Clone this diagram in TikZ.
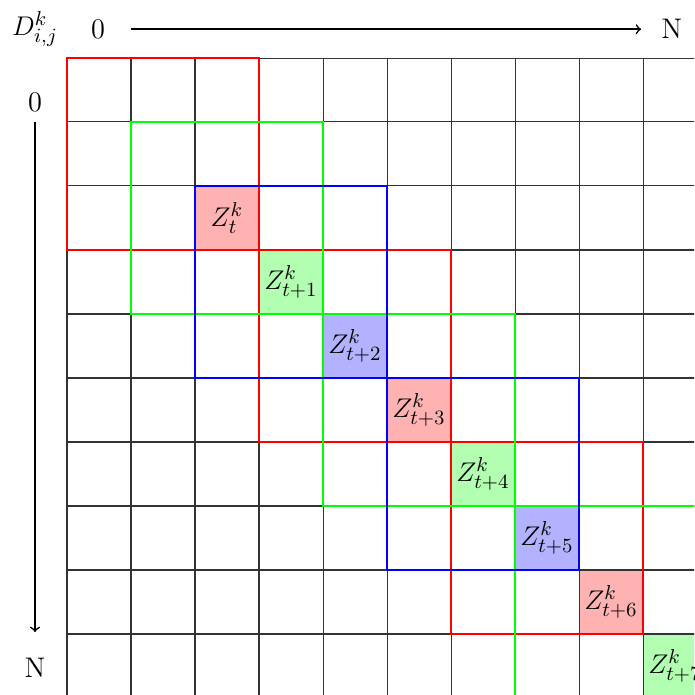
\documentclass[tikz,border=0pt]{standalone}
\begin{document}
\begin{tikzpicture}[x=1cm,y=-1cm,
  every node/.style={font=\fontsize{12.6}{15}\selectfont},
  gridline/.style={draw=black!80, line width=0.45pt},
  winbox/.style={line width=0.9pt},
  axarrow/.style={->, line width=0.7pt}]
\useasboundingbox (-1.046875,-0.90625) rectangle (9.796875,9.953125);
\clip (-1.046875,-0.90625) rectangle (9.796875,9.953125);
% filled diagonal cells
\fill[red!30]   (2,2) rectangle (3,3);
\fill[green!30] (3,3) rectangle (4,4);
\fill[blue!30]  (4,4) rectangle (5,5);
\fill[red!30]   (5,5) rectangle (6,6);
\fill[green!30] (6,6) rectangle (7,7);
\fill[blue!30]  (7,7) rectangle (8,8);
\fill[red!30]   (8,8) rectangle (9,9);
\fill[green!30] (9,9) rectangle (10,10);
% grid
\draw[gridline] (0,0) grid (11,11);
% windows
\draw[winbox, red]   (0,0) rectangle (3,3);
\draw[winbox, red]   (3,3) rectangle (6,6);
\draw[winbox, red]   (6,6) rectangle (9,9);
\draw[winbox, green] (1,1) rectangle (4,4);
\draw[winbox, green] (4,4) rectangle (7,7);
\draw[winbox, green] (7,7) rectangle (10,10);
\draw[winbox, blue]  (2,2) rectangle (5,5);
\draw[winbox, blue]  (5,5) rectangle (8,8);
% labels
\node (z0) at (2.5,2.5) {$Z^k_{t}$};
\node (z1) at (3.5,3.5) {$Z^k_{t+1}$};
\node (z2) at (4.5,4.5) {$Z^k_{t+2}$};
\node (z3) at (5.5,5.5) {$Z^k_{t+3}$};
\node (z4) at (6.5,6.5) {$Z^k_{t+4}$};
\node (z5) at (7.5,7.5) {$Z^k_{t+5}$};
\node (z6) at (8.5,8.5) {$Z^k_{t+6}$};
\node (z7) at (9.5,9.5) {$Z^k_{t+7}$};
% axes
\node (D) at (-0.5,-0.45) {$D^k_{i,j}$};
\node (x0) at (0.484,-0.45) {0};
\node (xN) at (9.45,-0.45) {N};
\node (y0) at (-0.5,0.70) {0};
\node (yN) at (-0.5,9.53) {N};
\coordinate (xs) at (1.0,-0.45);
\coordinate (xe) at (8.97,-0.45);
\coordinate (ys) at (-0.5,1.0);
\coordinate (ye) at (-0.5,8.97);
\draw[axarrow] (xs) -- (xe);
\draw[axarrow] (ys) -- (ye);
\end{tikzpicture}
\end{document}
